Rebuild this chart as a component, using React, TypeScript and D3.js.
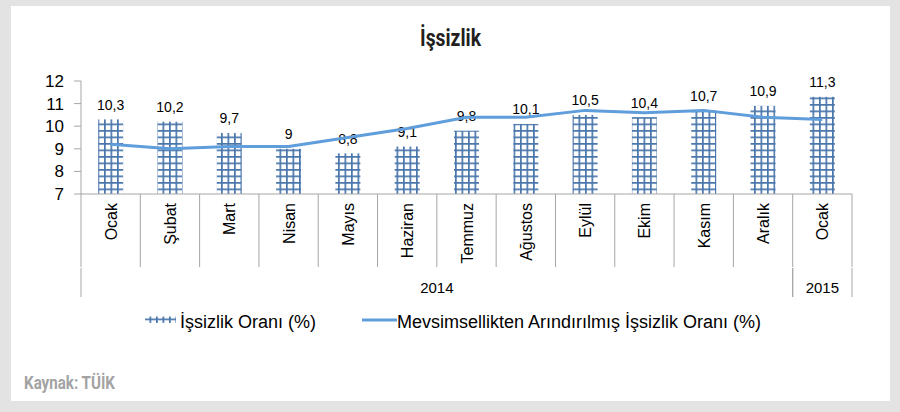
import React from 'react';
import * as d3 from 'd3';

const months = ['Ocak', 'Şubat', 'Mart', 'Nisan', 'Mayıs', 'Haziran', 'Temmuz', 'Ağustos', 'Eylül', 'Ekim', 'Kasım', 'Aralık', 'Ocak'];
const rate = [10.3, 10.2, 9.7, 9.0, 8.8, 9.1, 9.8, 10.1, 10.5, 10.4, 10.7, 10.9, 11.3];
const rateLabels = ['10,3', '10,2', '9,7', '9', '8,8', '9,1', '9,8', '10,1', '10,5', '10,4', '10,7', '10,9', '11,3'];
const adjusted = [9.2, 9.0, 9.1, 9.1, 9.5, 9.9, 10.4, 10.4, 10.7, 10.6, 10.7, 10.4, 10.3];
const years = [
  { label: '2014', from: 0, to: 11 },
  { label: '2015', from: 12, to: 12 },
];
const yTicks = [7, 8, 9, 10, 11, 12];

const W = 900;
const H = 412;
const margin = { left: 81, right: 48, top: 81, bottom: 218 };
const axisCol = '#a6a6a6';
const barCol = '#4a76ab';
const lineCol = '#5f9ddb';
const font = '"Liberation Sans", Arial, sans-serif';
const narrow = 'Roboto, "Liberation Sans", sans-serif';

export default function App() {
  const idx = months.map((_, i) => i);
  const x = d3.scaleBand<number>()
    .domain(idx)
    .range([margin.left, W - margin.right])
    .paddingInner(0)
    .paddingOuter(0);
  const y = d3.scaleLinear().domain([7, 12]).range([H - margin.bottom, margin.top]);
  const bw = 25;
  const cx = (i: number) => (x(i) as number) + x.bandwidth() / 2;
  const y0 = y(7);

  const line = d3.line<number>()
    .x((_, i) => cx(i))
    .y(d => y(d));

  return (
    <svg width={W} height={H} style={{ position: 'absolute', left: 0, top: 0 }}>
      <defs>
        <pattern id="grid" patternUnits="userSpaceOnUse" width={6.5} height={6.5}>
          <rect width={6.5} height={6.5} fill="#fff" />
          <rect x={0} y={0} width={6.5} height={1.7} fill={barCol} />
          <rect x={0} y={0} width={1.7} height={6.5} fill={barCol} />
        </pattern>
      </defs>
      <rect width={W} height={H} fill="#e3e3e3" />
      <rect x={11} y={6} width={879} height={395} fill="#fff" />

      <text x={420} y={46} textLength={61} lengthAdjust="spacingAndGlyphs" fontFamily={narrow} fontWeight="bold" fontSize={24} fill="#231f20">İşsizlik</text>

      {/* bars */}
      {rate.map((v, i) => (
        <rect key={'b' + i} x={cx(i) - bw / 2} y={y(v)} width={bw} height={y0 - y(v)} fill="url(#grid)" />
      ))}
      {rate.map((v, i) => (
        <text key={'l' + i} x={cx(i)} y={y(v) - 9.5} textAnchor="middle" fontFamily={font} fontSize={14} fill="#000">{rateLabels[i]}</text>
      ))}

      <path d={line(adjusted) as string} fill="none" stroke={lineCol} strokeWidth={3} />

      {/* y axis */}
      <line x1={margin.left} x2={margin.left} y1={y(12)} y2={y0} stroke={axisCol} />
      {yTicks.map(t => (
        <g key={'t' + t}>
          <line x1={margin.left - 7} x2={margin.left} y1={y(t)} y2={y(t)} stroke={axisCol} />
          <text x={64} y={y(t) + 6} textAnchor="end" fontFamily={font} fontSize={17} fill="#000">{t}</text>
        </g>
      ))}

      {/* x axis */}
      <line x1={margin.left} x2={W - margin.right} y1={y0} y2={y0} stroke={axisCol} />
      {idx.concat([months.length]).map(i => {
        const xx = i < months.length ? (x(i) as number) : W - margin.right;
        return <line key={'s' + i} x1={xx} x2={xx} y1={y0} y2={267} stroke={axisCol} />;
      })}
      {months.map((m, i) => (
        <text key={'m' + i} transform={`translate(${cx(i) + 6},203) rotate(-90)`} textAnchor="end" fontFamily={font} fontSize={16} fill="#000">{m}</text>
      ))}
      {years.map(g => {
        const a = x(g.from) as number;
        const b = (x(g.to) as number) + x.bandwidth();
        return (
          <g key={g.label}>
            <line x1={a} x2={a} y1={268} y2={297} stroke={axisCol} />
            <line x1={b} x2={b} y1={268} y2={297} stroke={axisCol} />
            <text x={(a + b) / 2} y={293} textAnchor="middle" fontFamily={font} fontSize={15} fill="#000">{g.label}</text>
          </g>
        );
      })}

      {/* legend */}
      <rect x={145} y={316.5} width={31} height={6.5} fill="url(#grid)" />
      <text x={180} y={328} fontFamily={font} fontSize={18} fill="#000">İşsizlik Oranı (%)</text>
      <line x1={362} x2={397} y1={320} y2={320} stroke={lineCol} strokeWidth={3} />
      <text x={397} y={328} fontFamily={font} fontSize={18} fill="#000">Mevsimsellikten Arındırılmış İşsizlik Oranı (%)</text>

      <text x={24} y={389} textLength={91} lengthAdjust="spacingAndGlyphs" fontFamily={narrow} fontWeight="bold" fontSize={18.5} fill="#a3a3a3">Kaynak: TÜİK</text>
    </svg>
  );
}
